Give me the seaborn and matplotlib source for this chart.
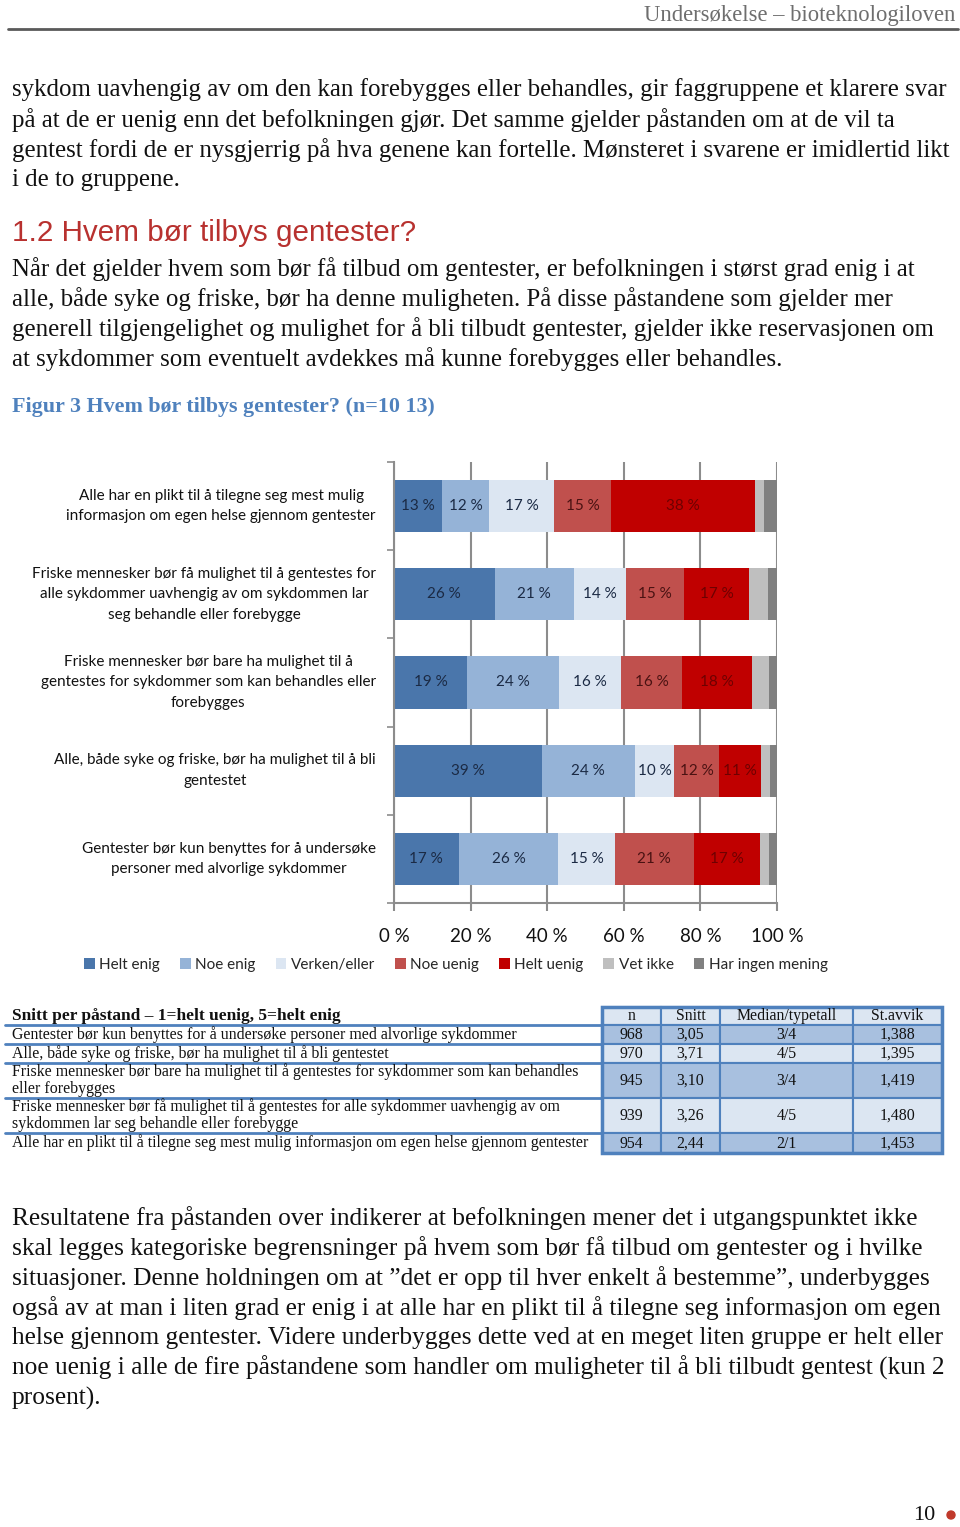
import numpy as np
import pandas as pd
import matplotlib
matplotlib.use("Agg")
import matplotlib.pyplot as plt
from matplotlib.patches import Patch, Rectangle, Circle
import seaborn as sns

# ---------------- data ----------------
statements = [
    "Alle har en plikt til å tilegne seg mest mulig\ninformasjon om egen helse gjennom gentester",
    "Friske mennesker bør få mulighet til å gentestes for\nalle sykdommer uavhengig av om sykdommen lar\nseg behandle eller forebygge",
    "Friske mennesker bør bare ha mulighet til å\ngentestes for sykdommer som kan behandles eller\nforebygges",
    "Alle, både syke og friske, bør ha mulighet til å bli\ngentestet",
    "Gentester bør kun benyttes for å undersøke\npersoner med alvorlige sykdommer",
]
series_names = ["Helt enig", "Noe enig", "Verken/eller", "Noe uenig", "Helt uenig", "Vet ikke", "Har ingen mening"]
helt_enig = [12.6, 26.3, 19.0, 38.6, 16.9]
noe_enig = [12.2, 20.6, 24.1, 24.3, 26.0]
verken_eller = [17.1, 13.6, 16.1, 10.2, 14.7]
noe_uenig = [14.7, 15.3, 16.1, 11.8, 20.7]
helt_uenig = [37.7, 17.0, 18.2, 10.9, 17.3]
vet_ikke = [2.2, 4.9, 4.3, 2.5, 2.4]
ingen_mening = [3.6, 2.3, 2.3, 1.7, 2.0]
labelled_series = 5
x_ticks = [0, 20, 40, 60, 80, 100]
x_tick_labels = ["0 %", "20 %", "40 %", "60 %", "80 %", "100 %"]

table_title = "Snitt per påstand – 1=helt uenig, 5=helt enig"
table_header = ["n", "Snitt", "Median/typetall", "St.avvik"]
table_rows = [
    "Gentester bør kun benyttes for å undersøke personer med alvorlige sykdommer",
    "Alle, både syke og friske, bør ha mulighet til å bli gentestet",
    "Friske mennesker bør bare ha mulighet til å gentestes for sykdommer som kan behandles\neller forebygges",
    "Friske mennesker bør få mulighet til å gentestes for alle sykdommer uavhengig av om\nsykdommen lar seg behandle eller forebygge",
    "Alle har en plikt til å tilegne seg mest mulig informasjon om egen helse gjennom gentester",
]
table_n = ["968", "970", "945", "939", "954"]
table_snitt = ["3,05", "3,71", "3,10", "3,26", "2,44"]
table_median = ["3/4", "4/5", "3/4", "4/5", "2/1"]
table_stavvik = ["1,388", "1,395", "1,419", "1,480", "1,453"]

header_text = "Undersøkelse – bioteknologiloven"
para1 = [
    "sykdom uavhengig av om den kan forebygges eller behandles, gir faggruppene et klarere svar",
    "på at de er uenig enn det befolkningen gjør. Det samme gjelder påstanden om at de vil ta",
    "gentest fordi de er nysgjerrig på hva genene kan fortelle. Mønsteret i svarene er imidlertid likt",
    "i de to gruppene.",
]
heading = "1.2 Hvem bør tilbys gentester?"
para2 = [
    "Når det gjelder hvem som bør få tilbud om gentester, er befolkningen i størst grad enig i at",
    "alle, både syke og friske, bør ha denne muligheten. På disse påstandene som gjelder mer",
    "generell tilgjengelighet og mulighet for å bli tilbudt gentester, gjelder ikke reservasjonen om",
    "at sykdommer som eventuelt avdekkes må kunne forebygges eller behandles.",
]
caption = "Figur 3 Hvem bør tilbys gentester? (n=10 13)"
para3 = [
    "Resultatene fra påstanden over indikerer at befolkningen mener det i utgangspunktet ikke",
    "skal legges kategoriske begrensninger på hvem som bør få tilbud om gentester og i hvilke",
    "situasjoner. Denne holdningen om at ”det er opp til hver enkelt å bestemme”, underbygges",
    "også av at man i liten grad er enig i at alle har en plikt til å tilegne seg informasjon om egen",
    "helse gjennom gentester. Videre underbygges dette ved at en meget liten gruppe er helt eller",
    "noe uenig i alle de fire påstandene som handler om muligheter til å bli tilbudt gentest (kun 2",
    "prosent).",
]
page_number = "10"

# ---------------- style ----------------
sns.set_theme(style="white")
SANS = ["Lato", "DejaVu Sans"]
SERIF = ["Liberation Serif", "DejaVu Serif"]
plt.rcParams["font.family"] = SANS

colors = ["#4A76AB", "#95B3D7", "#DCE6F2", "#C0504D", "#C00000", "#BFBFBF", "#808080"]
label_colors = ["#1B2A44", "#1B2A44", "#1B2A44", "#4A1212", "#6E0000"]
grid_col = "#8C8C8C"

W, H = 960, 1527
fig = plt.figure(figsize=(W / 100, H / 100), dpi=100)

# page layer (pixel coordinates)
page = fig.add_axes([0, 0, 1, 1])
page.set_xlim(0, W)
page.set_ylim(H, 0)
page.axis("off")

page.text(955, 15, header_text, ha="right", va="center", family=SERIF, fontsize=16.3, color="#6E6E6E")
page.plot([8, 958], [29, 29], color="#5A5A5A", lw=2)

body_kw = dict(family=SERIF, fontsize=17.9, color="#111111", va="center", ha="left")
for i, line in enumerate(para1):
    page.text(12, 90 + 30 * i, line, **body_kw)
page.text(12, 233, heading, family=["Liberation Sans", "DejaVu Sans"], fontsize=21.3, color="#B8312F",
          va="center", ha="left")
for i, line in enumerate(para2):
    page.text(12, 269 + 30 * i, line, **body_kw)
page.text(12, 407, caption, family=SERIF, fontsize=15.8, weight="bold", color="#4F81BD", va="center", ha="left")
body_kw3 = dict(body_kw, fontsize=18.3)
for i, line in enumerate(para3):
    page.text(12, 1218 + 30 * i, line, **body_kw3)

page.text(935, 1516, page_number, family=SERIF, fontsize=16, ha="right", va="center", color="#111111")
page.add_patch(Circle((951, 1515), 4, color="#C0392B"))

# ---------------- table ----------------
tbl_kw = dict(family=SERIF, fontsize=11.4, color="#111111")
page.text(12, 1016, table_title, weight="bold", va="center", ha="left",
          family=SERIF, fontsize=12.5, color="#111111")
row_edges = [1007, 1025, 1044, 1063, 1098, 1133, 1153]
col_edges = [602, 661, 720, 853, 942]
blue = "#4F81BD"
for k, yl in enumerate(row_edges[1:-1]):
    page.plot([5, 602], [yl, yl], color=blue, lw=2)
for r in range(len(row_edges) - 1):
    y0, y1 = row_edges[r], row_edges[r + 1]
    if r == 0:
        fill = "#DCE6F2"
        vals = table_header
    else:
        fill = "#A8C0DF" if r % 2 == 1 else "#DCE6F2"
        vals = [table_n[r - 1], table_snitt[r - 1], table_median[r - 1], table_stavvik[r - 1]]
    for c in range(4):
        x0, x1 = col_edges[c], col_edges[c + 1]
        page.add_patch(Rectangle((x0, y0), x1 - x0, y1 - y0, facecolor=fill, edgecolor=blue, lw=1.5))
        page.text((x0 + x1) / 2, (y0 + y1) / 2 + 0.5, vals[c], ha="center", va="center", **tbl_kw)
    if r > 0:
        lines = table_rows[r - 1].split("\n")
        if len(lines) == 1:
            page.text(12, (y0 + y1) / 2, lines[0], ha="left", va="center", **tbl_kw)
        else:
            for j, ln in enumerate(lines):
                page.text(12, y0 + 9 + 17 * j, ln, ha="left", va="center", **tbl_kw)
page.add_patch(Rectangle((col_edges[0], row_edges[0]), col_edges[-1] - col_edges[0],
                         row_edges[-1] - row_edges[0], fill=False, edgecolor=blue, lw=2.5))

# ---------------- chart ----------------
ax = fig.add_axes([394 / W, 1 - 903 / H, (777 - 394) / W, (903 - 462) / H])
vals = np.array([helt_enig, noe_enig, verken_eller, noe_uenig, helt_uenig, vet_ikke, ingen_mening])
cum = vals.cumsum(axis=0)
df = pd.DataFrame({"statement": statements})
for i, name in enumerate(series_names):
    df[name] = cum[i]

for i in reversed(range(len(series_names))):
    sns.barplot(data=df, x=series_names[i], y="statement", order=statements, orient="h",
                color=colors[i], saturation=1, width=0.59, errorbar=None,
                edgecolor="none", linewidth=0, ax=ax, zorder=2)

for i in range(labelled_series):
    for j in range(len(statements)):
        left = cum[i][j] - vals[i][j]
        ax.text(left + vals[i][j] / 2, j, f"{round(vals[i][j]):.0f} %", ha="center", va="center",
                fontsize=11, color=label_colors[i], zorder=3)

ax.set_xlim(0, 100)
ax.set_ylim(len(statements) - 0.5, -0.5)
ax.set_xlabel("")
ax.set_ylabel("")
ax.set_xticks(x_ticks)
ax.set_xticklabels(x_tick_labels, fontsize=13.5, color="#111111")
ax.set_yticks(range(len(statements)))
ax.set_yticklabels(statements, fontsize=11, color="#111111", multialignment="center",
                   linespacing=1.6, va="center")
ax.set_yticks(np.arange(-0.5, len(statements)), minor=True)
ax.tick_params(axis="y", which="major", length=0, pad=13)
ax.tick_params(axis="y", which="minor", length=5, width=1.2, color=grid_col, direction="out", left=True)
ax.tick_params(axis="x", which="major", length=6, width=1.5, color=grid_col, direction="out", bottom=True, pad=12)
ax.xaxis.grid(True, color=grid_col, lw=1.5)
ax.yaxis.grid(False)
ax.set_axisbelow(True)
for s in ["top", "right"]:
    ax.spines[s].set_visible(False)
for s in ["left", "bottom"]:
    ax.spines[s].set_color(grid_col)
    ax.spines[s].set_linewidth(1.5)
ax.set_facecolor("white")

handles = [Patch(facecolor=c, edgecolor="none") for c in colors]
fig.legend(handles, series_names, loc="center", bbox_to_anchor=(456 / W, 1 - 965 / H), ncol=7,
           frameon=False, handlelength=0.7, handleheight=0.7, handletextpad=0.3, columnspacing=1.3,
           fontsize=11)

fig.savefig("out.png", dpi=100)
